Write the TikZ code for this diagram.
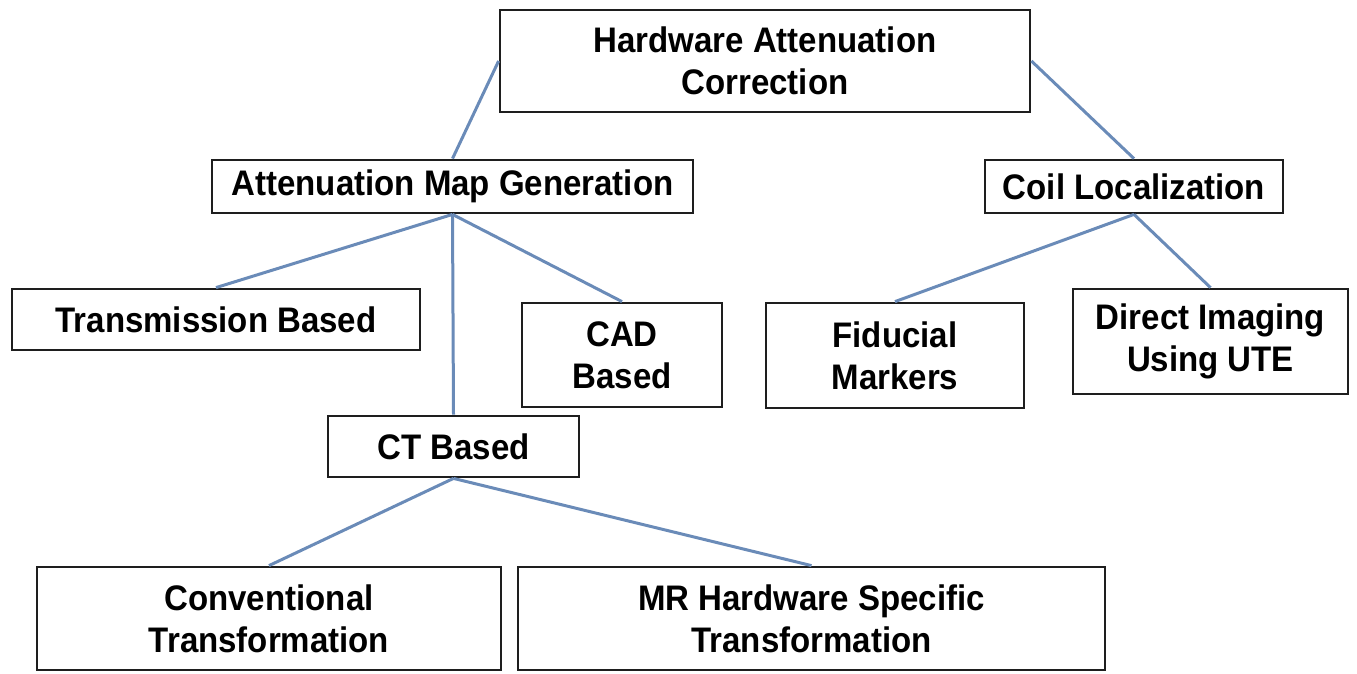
\documentclass[tikz,border=0pt]{standalone}
\usepackage{fontspec}
\setmainfont{Liberation Sans}[FakeStretch=0.93]
\definecolor{linkc}{HTML}{6A8BB8}
\definecolor{boxc}{HTML}{1E1E1E}
\tikzset{
  box/.style={draw=boxc, line width=2.8pt, fill=white, align=center, inner sep=0pt,
    font=\fontsize{35.5}{42}\selectfont\bfseries},
  link/.style={draw=linkc, line width=3pt}
}
\begin{document}
\begin{tikzpicture}[x=1pt,y=-1pt]
\useasboundingbox (0,0) rectangle (1357,673);
\node[box, minimum width=530pt, minimum height=102pt] (hac) at (765,61) {Hardware Attenuation\\Correction};
\node[box, minimum width=481pt, minimum height=53pt] (amg) at (452.5,186.5) {Attenuation Map Generation};
\node[box, minimum width=298pt, minimum height=53pt] (coil) at (1134,186.5) {Coil Localization};
\node[box, minimum width=408pt, minimum height=61pt] (trans) at (216,319.5) {Transmission Based};
\node[box, minimum width=200pt, minimum height=104pt] (cad) at (622,355) {CAD\\Based};
\node[box, minimum width=251pt, minimum height=61pt] (ct) at (453.5,446.5) {CT Based};
\node[box, minimum width=258pt, minimum height=105pt] (fid) at (895,355.5) {Fiducial\\Markers};
\node[box, minimum width=275pt, minimum height=105pt] (dir) at (1210.5,341.5) {Direct Imaging\\Using UTE};
\node[box, minimum width=464pt, minimum height=103pt] (conv) at (269,618.5) {Conventional\\Transformation};
\node[box, minimum width=587pt, minimum height=103pt] (mr) at (811.5,618.5) {MR Hardware Specific\\Transformation};
\draw[link] (hac.west) -- (amg.north);
\draw[link] (hac.east) -- (coil.north);
\draw[link] (amg.south) -- (trans.north);
\draw[link] (amg.south) -- (cad.north);
\draw[link] (amg.south) -- (ct.north);
\draw[link] (coil.south) -- (fid.north);
\draw[link] (coil.south) -- (dir.north);
\draw[link] (ct.south) -- (conv.north);
\draw[link] (ct.south) -- (mr.north);
\end{tikzpicture}
\end{document}
